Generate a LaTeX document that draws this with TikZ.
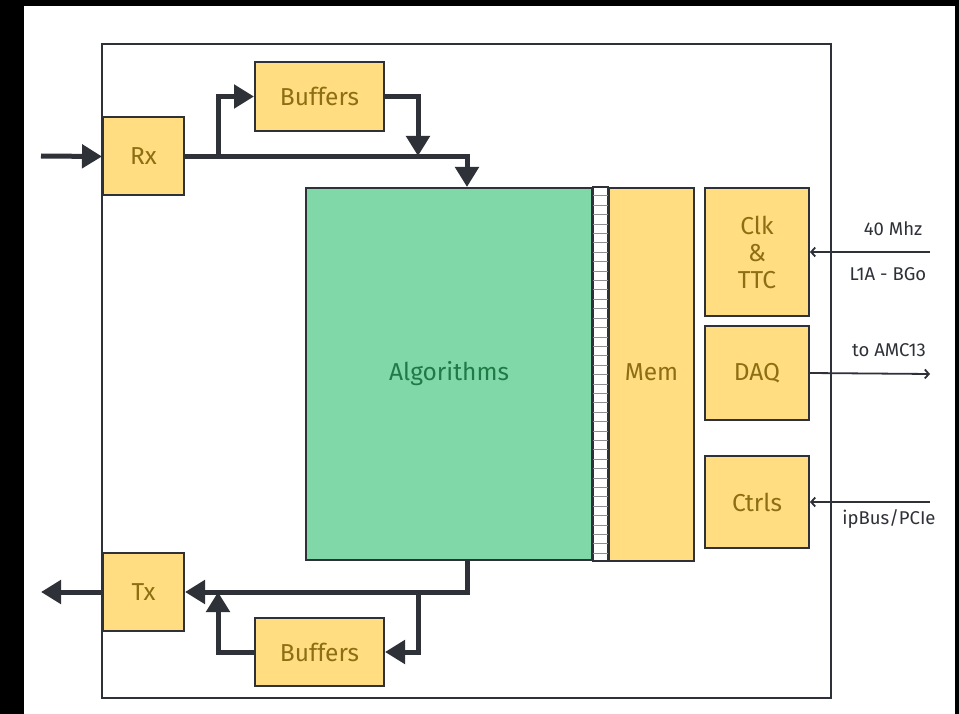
\documentclass[tikz,border=0pt]{standalone}
\usepackage{fontspec}
\setmainfont{Fira Sans}
\usetikzlibrary{arrows.meta}
\definecolor{boxY}{HTML}{FFDD80}
\definecolor{boxG}{HTML}{80D8A8}
\definecolor{txtY}{HTML}{8C6E14}
\definecolor{txtG}{HTML}{1F7A48}
\definecolor{ln}{HTML}{2E3138}
\begin{document}
\begin{tikzpicture}[x=1pt,y=-1pt,
  ybox/.style={draw=ln, line width=2pt, fill=boxY, text=txtY, inner sep=0pt,
    font=\fontsize{24.5}{27}\selectfont, align=center},
  gbox/.style={draw=ln, line width=2pt, fill=boxG, text=txtG, inner sep=0pt,
    font=\fontsize{24.5}{27}\selectfont},
  thk/.style={draw=ln, line width=5pt, -{Triangle[length=20pt,width=23pt]}},
  thn/.style={draw=ln, line width=1.8pt, -{Straight Barb[length=4pt,width=9pt]}},
  lbl/.style={text=ln, font=\fontsize{18.5}{20}\selectfont, inner sep=0pt}
]
\useasboundingbox (0,0) rectangle (959,714);
\fill[black] (0,0) rectangle (959,714);
\fill[white] (24,6) rectangle (955,714);
\draw[ln, line width=2pt] (102,44) rectangle (831,698);

% nodes
\node[ybox, minimum width=81pt, minimum height=78pt] (rx) at (143.5,156.5) {Rx};
\node[ybox, minimum width=129pt, minimum height=69pt] (buf1) at (319.5,96.5) {Buffers};
\node[gbox, minimum width=286pt, minimum height=372pt] (alg) at (449,374) {\raisebox{5pt}{Algorithms}};
\node[ybox, minimum width=85pt, minimum height=373pt] (mem) at (651.5,374.5) {\raisebox{5pt}{Mem}};
\node[ybox, minimum width=104pt, minimum height=128pt] (clk) at (757,252) {Clk\\\&\\TTC};
\node[ybox, minimum width=104pt, minimum height=94pt] (daq) at (757,373) {\raisebox{-5pt}{DAQ}};
\node[ybox, minimum width=104pt, minimum height=92pt] (ctrl) at (757,502) {Ctrls};
\node[ybox, minimum width=81pt, minimum height=78pt] (tx) at (143.5,592) {Tx};
\node[ybox, minimum width=129pt, minimum height=68pt] (buf2) at (319.5,652) {Buffers};

% bus between Algorithms and Mem
\draw[ln, line width=1.2pt, fill=white] (593,187) rectangle (608,561);
\foreach \i in {0,...,38}
  \draw[ln!55, line width=1pt] (593,196+\i*9.4) -- (608,196+\i*9.4);

% coordinates
\coordinate (inL) at (41,156);
\coordinate (outL) at (41,592);
\coordinate (algin) at (467,187);
\coordinate (algout) at (467,561);
\coordinate (s1) at (218,156);
\coordinate (j1) at (418,156);
\coordinate (s2) at (418,592);
\coordinate (j2) at (218,592);
\coordinate (clkin) at (930,252);
\coordinate (daqout) at (930,374);
\coordinate (ctrlin) at (930,502);

% thick connectors
\draw[thk] (inL) -- (rx.west);
\draw[thk] (rx.east) -| (algin);
\draw[thk] (s1) |- (buf1.west);
\draw[thk] (buf1.east) -| (j1);
\draw[thk] (algout) |- (tx.east);
\draw[thk] (s2) |- (buf2.east);
\draw[thk] (buf2.west) -| (j2);
\draw[thk] (tx.west) -- (outL);

% thin connectors
\draw[thn] (clkin) -- (clk.east);
\draw[thn] (daq.east) -- (daqout);
\draw[thn] (ctrlin) -- (ctrl.east);
\node[lbl] (l40) at (893,229) {40 Mhz};
\node[lbl] (l1a) at (888,274) {L1A - BGo};
\node[lbl] (lamc) at (889,350) {to AMC13};
\node[lbl] (lip) at (889,519) {ipBus/PCIe};
\end{tikzpicture}
\end{document}
